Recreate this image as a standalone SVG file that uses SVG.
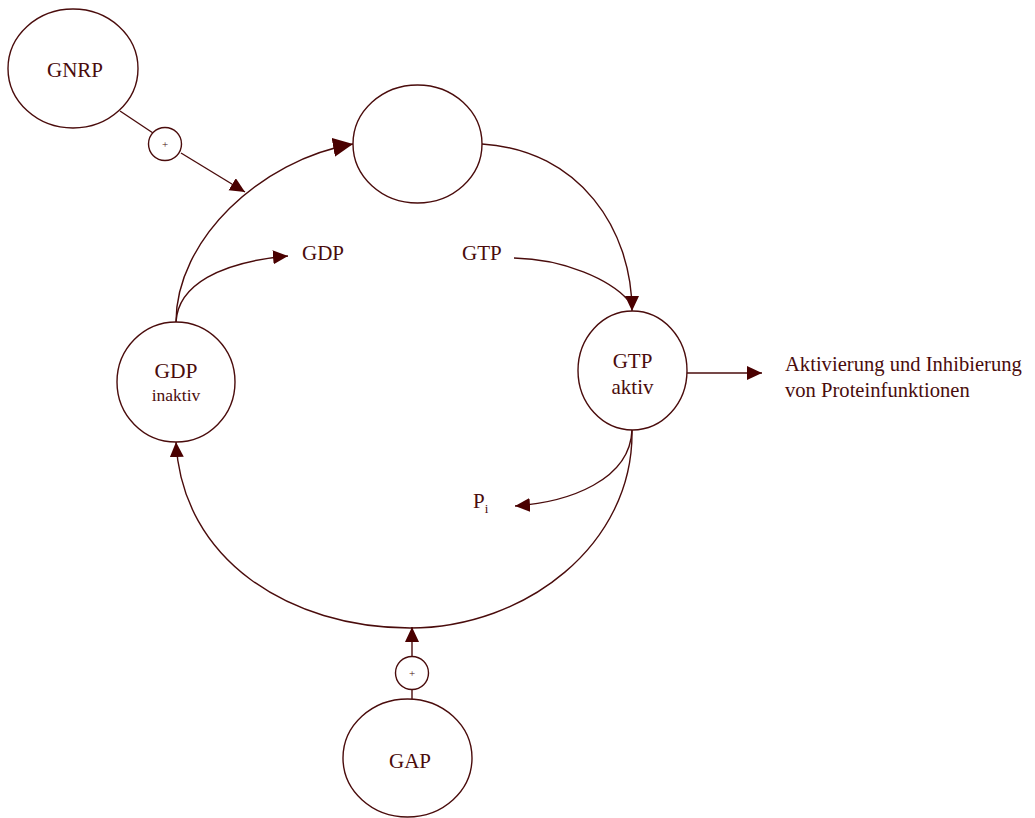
<svg xmlns="http://www.w3.org/2000/svg" width="1035" height="818" viewBox="0 0 1035 818">
<style>
.n{fill:#fff;stroke:#4a0c0c;stroke-width:1.4}
.c{fill:none;stroke:#4a0c0c;stroke-width:1.4}
.t{font-family:"Liberation Serif","Times New Roman",serif;fill:#4a0c0c;text-anchor:middle}
.l{font-family:"Liberation Serif","Times New Roman",serif;fill:#4a0c0c}
</style>
<defs>
<marker id="a" markerUnits="userSpaceOnUse" markerWidth="17" markerHeight="16" refX="15" refY="7" orient="auto"><path d="M0,0L15,7L0,14Z" fill="#4a0000"/></marker>
<marker id="b" markerUnits="userSpaceOnUse" markerWidth="22" markerHeight="20" refX="20" refY="9.5" orient="auto"><path d="M0,0L20,9.5L0,19Z" fill="#4a0000"/></marker>
</defs>
<rect width="1035" height="818" fill="#fff"/>
<g id="connectors">
<path class="c" d="M120,111L153,133"/>
<path class="c" d="M181,153L245,192" marker-end="url(#a)"/>
<path class="c" d="M176,322C176,240 260,160 353,144" marker-end="url(#b)"/>
<path class="c" d="M176,322C178,285 220,262 288,256" marker-end="url(#a)"/>
<path class="c" d="M482,144C580,150 632,230 632,311" marker-end="url(#a)"/>
<path class="c" d="M514,258C565,259 610,280 628,300"/>
<path class="c" d="M687,373L762,373" marker-end="url(#a)"/>
<path class="c" d="M632,430C630,480 570,502 515,506" marker-end="url(#a)"/>
<path class="c" d="M632,430C634,545 525,628 410,628C290,628 182,560 176,442" marker-end="url(#a)"/>
<path class="c" d="M412,656L412,627" marker-end="url(#a)"/>
<path class="c" d="M412,690L412,699"/>
</g>
<g id="GNRP"><ellipse class="n" cx="73" cy="68.5" rx="65" ry="59.5"/><text class="t" x="75" y="77" font-size="21">GNRP</text></g>
<g id="plus1"><circle class="n" cx="165" cy="144" r="16.5"/><text class="t" x="165" y="148" font-size="11">+</text></g>
<g id="top"><ellipse class="n" cx="417.5" cy="144" rx="64.5" ry="59"/></g>
<g id="GDPnode"><ellipse class="n" cx="176" cy="382" rx="59" ry="60"/><text class="t" x="176" y="378" font-size="21.5">GDP</text><text class="t" x="176" y="401" font-size="17.5">inaktiv</text></g>
<g id="GTPnode"><ellipse class="n" cx="632.5" cy="370.5" rx="54.5" ry="59.5"/><text class="t" x="632.5" y="368" font-size="21">GTP</text><text class="t" x="632.5" y="394" font-size="21">aktiv</text></g>
<g id="GAP"><ellipse class="n" cx="407.5" cy="758" rx="64.5" ry="59"/><text class="t" x="410" y="768" font-size="21">GAP</text></g>
<g id="plus2"><circle class="n" cx="412" cy="673" r="16.5"/><text class="t" x="412" y="677" font-size="11">+</text></g>
<g id="labels">
<text class="l" x="302" y="260" font-size="21">GDP</text>
<text class="l" x="462" y="260" font-size="21">GTP</text>
<text class="l" x="473" y="508" font-size="21">P<tspan font-size="13" dy="5">i</tspan></text>
<text class="l" x="785" y="371" font-size="20.6">Aktivierung und Inhibierung</text>
<text class="l" x="785" y="397" font-size="20.6">von Proteinfunktionen</text>
</g>
</svg>
